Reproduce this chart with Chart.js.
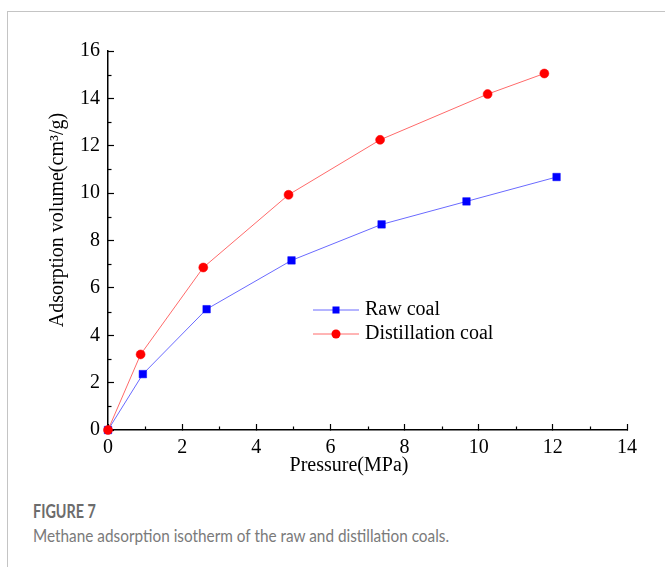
<!DOCTYPE html>
<html>
<head>
<meta charset="utf-8">
<script src="https://cdn.jsdelivr.net/npm/chart.js"></script>
<style>
  body { margin: 0; background: #fff; }
  #frame {
    position: absolute; left: 7px; top: 11px; width: 700px; height: 600px;
    border-left: 1px solid #c4c4c4; border-top: 1px solid #c4c4c4;
  }
  #wrap { position: absolute; left: 0; top: 0; width: 665px; height: 490px; }
  .cap { position: absolute; left: 33px; font-family: Lato, "Open Sans", sans-serif; white-space: nowrap; transform-origin: 0 0; }
  #figno { top: 500px; font-size: 18px; font-weight: 700; color: #6c6c6c; transform: scaleX(0.8); }
  #figtxt { top: 526px; font-size: 16.5px; color: #7a7a7a; transform: scaleX(0.93); }
</style>
</head>
<body>
<div id="frame"></div>
<div id="wrap"><canvas id="isotherm" width="665" height="490"></canvas></div>
<div class="cap" id="figno">FIGURE 7</div>
<div class="cap" id="figtxt">Methane adsorption isotherm of the raw and distillation coals.</div>
<script>
// pressure (MPa) and adsorbed volume (cm3/g)
var rawPressure = [0, 0.94, 2.66, 4.95, 7.38, 9.67, 12.1];
var rawVolume = [0, 2.36, 5.1, 7.16, 8.68, 9.65, 10.68];
var distPressure = [0, 0.88, 2.57, 4.87, 7.34, 10.24, 11.77];
var distVolume = [0, 3.19, 6.86, 9.93, 12.25, 14.18, 15.05];

var seriesNames = ['Raw coal', 'Distillation coal'];
var xTitle = 'Pressure(MPa)';
var yTitle = 'Adsorption volume(cm\u00b3/g)';

function toPoints(xs, ys) {
    return xs.map(function (x, i) { return {x: x, y: ys[i]}; });
}

Chart.defaults.font.family = "'Liberation Serif', 'Times New Roman', serif";
Chart.defaults.font.size = 20;
Chart.defaults.color = '#000';

// draws the minor ticks, the axis titles and the legend box inside the plot
var extras = {
    id: 'extras',
    afterDraw: function (chart) {
        var c = chart.ctx;
        var area = chart.chartArea;
        var xs = chart.scales.x, ys = chart.scales.y;
        c.save();
        c.strokeStyle = '#000';
        c.lineWidth = 1.2;
        for (var v = 1; v < 14; v += 2) {
            var px = Math.round(xs.getPixelForValue(v)) + 0.5;
            c.beginPath(); c.moveTo(px, area.bottom); c.lineTo(px, area.bottom - 3.5); c.stroke();
        }
        for (var w = 1; w < 16; w += 2) {
            var py = Math.round(ys.getPixelForValue(w)) + 0.5;
            c.beginPath(); c.moveTo(area.left, py); c.lineTo(area.left + 3.5, py); c.stroke();
        }

        c.fillStyle = '#000';
        c.font = "20px 'Liberation Serif', serif";
        c.textAlign = 'center';
        c.textBaseline = 'middle';
        c.fillText(xTitle, area.left + 241, area.bottom + 36);
        c.save();
        c.translate(area.left - 50, area.top + 169);
        c.rotate(-Math.PI / 2);
        c.fillText(yTitle, 0, 0);
        c.restore();

        c.textAlign = 'left';
        chart.data.datasets.forEach(function (ds, i) {
            var ly = area.top + 259 + i * 24;
            var lx = area.left + 205;
            c.strokeStyle = ds.borderColor;
            c.lineWidth = 1;
            c.beginPath(); c.moveTo(lx, ly); c.lineTo(lx + 46, ly); c.stroke();
            c.fillStyle = ds.pointBackgroundColor;
            if (ds.pointStyle === 'rect') {
                c.fillRect(lx + 23 - 3.5, ly - 3.5, 7, 7);
            } else {
                c.beginPath(); c.arc(lx + 23, ly, 4.5, 0, Math.PI * 2); c.fill();
            }
            c.fillStyle = '#000';
            c.fillText(seriesNames[i], lx + 52, ly);
        });
        c.restore();
    }
};

const ctx = document.getElementById('isotherm');

var isothermChart = new Chart(ctx, {
    type: 'line',
    data: {
        datasets: [{
            label: seriesNames[0],
            data: toPoints(rawPressure, rawVolume),
            borderColor: '#6a6aff',
            borderWidth: 1,
            pointStyle: 'rect',
            pointRadius: 5.3,
            pointBackgroundColor: '#0000ff',
            pointBorderColor: '#0000ff',
            pointBorderWidth: 0.5,
            order: 2,
            clip: false
        }, {
            label: seriesNames[1],
            data: toPoints(distPressure, distVolume),
            borderColor: '#ff6a6a',
            borderWidth: 1,
            pointStyle: 'circle',
            pointRadius: 4.5,
            pointBackgroundColor: '#ff0000',
            pointBorderColor: '#ff0000',
            pointBorderWidth: 0.5,
            order: 1,
            clip: false
        }]
    },
    options: {
        responsive: false,
        animation: false,
        layout: {
            padding: {left: 0, top: 51, right: 38, bottom: 0}
        },
        plugins: {
            legend: {display: false},
            tooltip: {enabled: false}
        },
        scales: {
            x: {
                type: 'linear',
                min: 0,
                max: 14,
                afterFit: function (scale) { scale.height = 60; },
                border: {color: '#000', width: 1.5},
                grid: {
                    drawOnChartArea: false,
                    tickLength: -6,
                    tickWidth: 1.2,
                    tickColor: function (c) { return c.tick.value % 2 ? 'rgba(0,0,0,0)' : '#000'; }
                },
                ticks: {
                    stepSize: 1,
                    autoSkip: false,
                    maxRotation: 0,
                    padding: 12,
                    callback: function (v) { return v % 2 ? '' : v; }
                }
            },
            y: {
                min: 0,
                max: 16,
                afterFit: function (scale) { scale.width = 108; },
                border: {color: '#000', width: 1.5},
                grid: {
                    drawOnChartArea: false,
                    tickLength: -6,
                    tickWidth: 1.2,
                    tickColor: function (c) { return c.tick.value % 2 ? 'rgba(0,0,0,0)' : '#000'; }
                },
                ticks: {
                    stepSize: 1,
                    autoSkip: false,
                    padding: 14,
                    callback: function (v) { return v % 2 ? '' : v; }
                }
            }
        }
    },
    plugins: [extras]
});
</script>
</body>
</html>
